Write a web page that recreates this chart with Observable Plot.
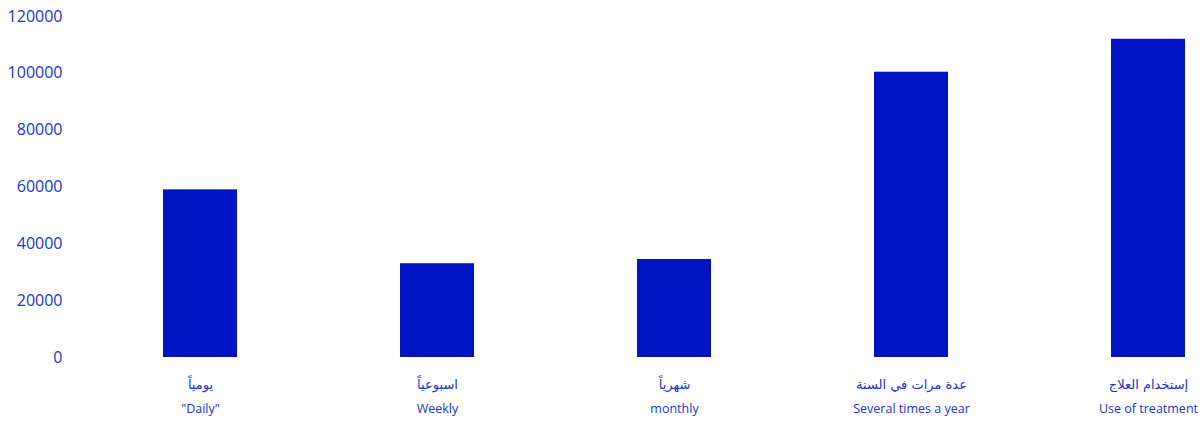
<!DOCTYPE html>
<html>
<head>
<meta charset="utf-8">
<script src="https://cdn.jsdelivr.net/npm/d3@7"></script>
<script src="https://cdn.jsdelivr.net/npm/@observablehq/plot@0.6"></script>
<style>
  html, body { margin: 0; padding: 0; background: #fff; }
  #chart svg { display: block; }
</style>
</head>
<body>
<div id="chart"></div>
<script>
const categoriesAr = ["يومياً", "اسبوعياً", "شهرياً", "عدة مرات في السنة", "إستخدام العلاج"];
const categoriesEn = ["\"Daily\"", "Weekly", "monthly", "Several times a year", "Use of treatment"];
const values = [59000, 33000, 34500, 100400, 112000];
const yTicks = [0, 20000, 40000, 60000, 80000, 100000, 120000];

const data = categoriesEn.map((en, i) => ({en, ar: categoriesAr[i], value: values[i]}));
const arOf = new Map(data.map(d => [d.en, d.ar]));

const textColor = "#2035cc";
const barColor = "#0014c4";

const chart = Plot.plot({
  width: 1200,
  height: 423,
  marginLeft: 147,
  marginRight: 0,
  marginTop: 16,
  marginBottom: 66,
  style: {fontFamily: "'Open Sans', sans-serif", background: "#fff"},
  x: {domain: categoriesEn, paddingInner: 0.688, paddingOuter: 0.063, label: null},
  y: {domain: [0, 120000], label: null},
  marks: [
    Plot.barY(data, {x: "en", y: "value", fill: barColor}),
    Plot.axisY({ticks: yTicks, tickFormat: d3.format("d"), tickSize: 0, tickPadding: 85,
      fontSize: 16, fill: textColor, label: null}),
    Plot.axisX({tickSize: 0, tickPadding: 22, tickFormat: d => arOf.get(d),
      fontSize: 13, fill: textColor, label: null, fontFamily: "'DejaVu Sans', sans-serif"}),
    Plot.axisX({tickSize: 0, tickPadding: 47, fontSize: 12.5, fill: textColor, label: null})
  ]
});
document.getElementById("chart").appendChild(chart);
</script>
</body>
</html>
